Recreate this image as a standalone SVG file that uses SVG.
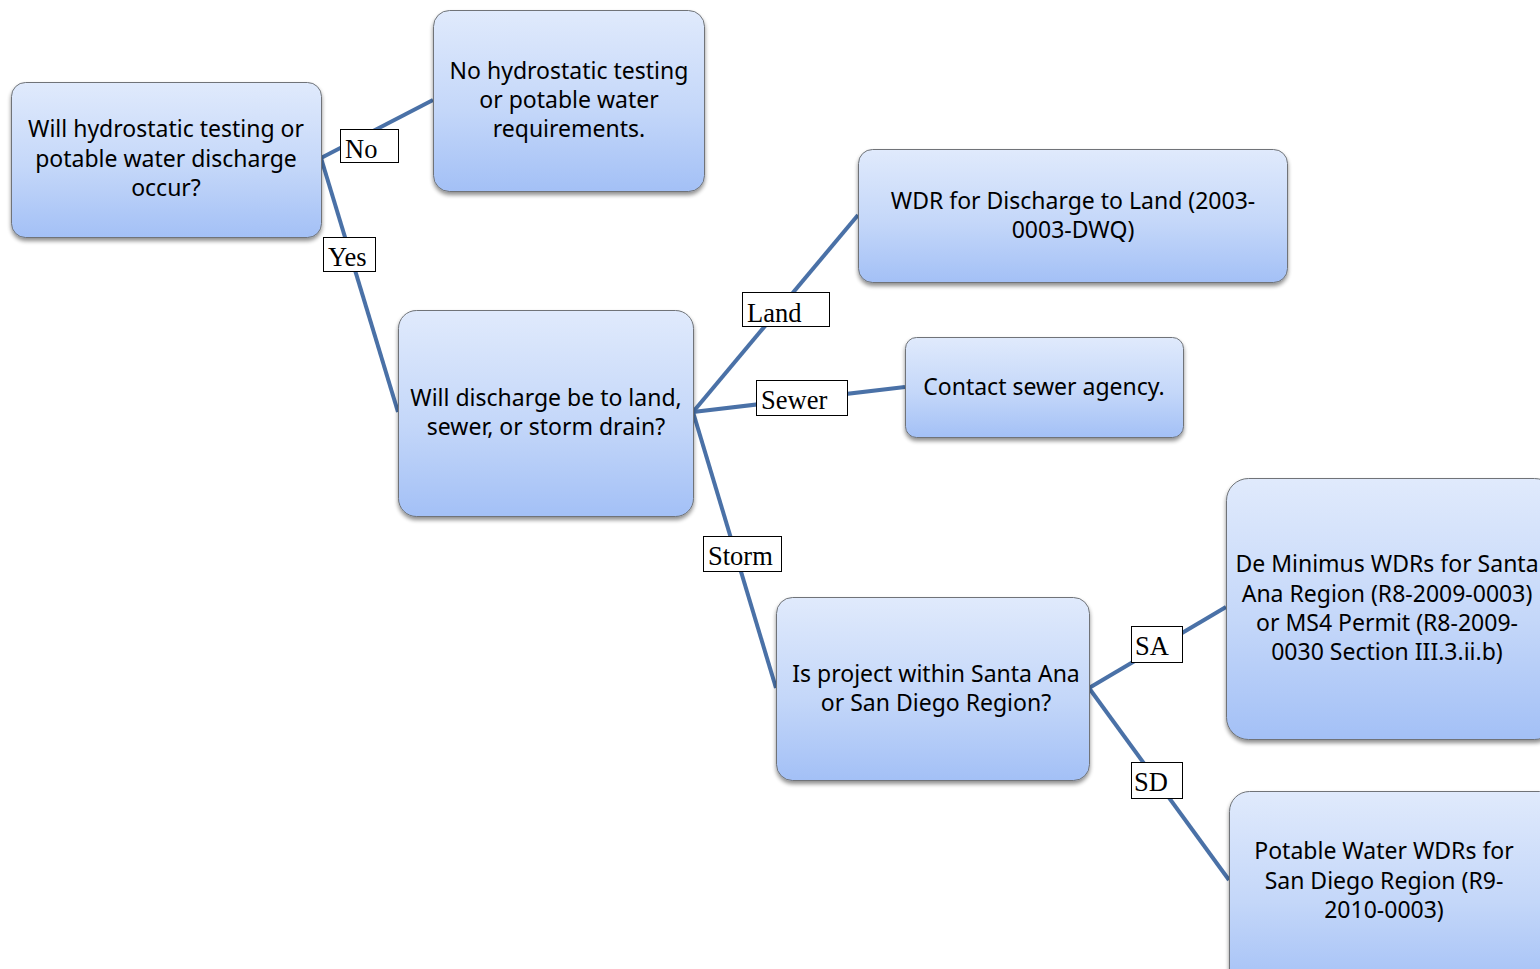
<svg xmlns="http://www.w3.org/2000/svg" width="1540" height="969" viewBox="0 0 1540 969">
<defs>
<linearGradient id="g" x1="0" y1="0" x2="0" y2="1">
<stop offset="0" stop-color="#e0eafc"/>
<stop offset="0.55" stop-color="#c4d7f9"/>
<stop offset="1" stop-color="#a3c0f6"/>
</linearGradient>
<filter id="sh" x="-10%" y="-10%" width="120%" height="130%">
<feGaussianBlur in="SourceAlpha" stdDeviation="2"/>
<feOffset dx="0" dy="3"/>
<feComponentTransfer><feFuncA type="linear" slope="0.45"/></feComponentTransfer>
<feMerge><feMergeNode/><feMergeNode in="SourceGraphic"/></feMerge>
</filter>
</defs>
<style>
.box{fill:url(#g);stroke:#6f7378;stroke-width:1;filter:url(#sh)}
.t{font-family:"Noto Sans","Open Sans",sans-serif;font-size:23px;fill:#000;text-anchor:middle}
.c{stroke:#4a71a7;stroke-width:4;fill:none}
.lb{fill:#fff;stroke:#000;stroke-width:1}
.lt{font-family:"Liberation Serif","Times New Roman",serif;font-size:26.500px;fill:#000}
</style>
<rect width="1540" height="969" fill="#fff"/>
<g id="connectors">
<line class="c" x1="321" y1="158" x2="433" y2="100"/>
<line class="c" x1="321" y1="158" x2="398" y2="412"/>
<line class="c" x1="693" y1="412" x2="858" y2="215"/>
<line class="c" x1="693" y1="412" x2="905" y2="387"/>
<line class="c" x1="693" y1="412" x2="776" y2="688"/>
<line class="c" x1="1089" y1="688" x2="1226" y2="607"/>
<line class="c" x1="1089" y1="688" x2="1229" y2="880"/>
<g id="label-no"><rect class="lb" x="340.500" y="129.500" width="58" height="33"/><text class="lt" x="345" y="158">No</text></g>
<g id="label-yes"><rect class="lb" x="323.500" y="237.500" width="52" height="34"/><text class="lt" x="328" y="266">Yes</text></g>
<g id="label-land"><rect class="lb" x="742.500" y="292.500" width="87" height="34"/><text class="lt" x="747" y="322">Land</text></g>
<g id="label-sewer"><rect class="lb" x="756.500" y="380.500" width="91" height="35"/><text class="lt" x="761" y="409">Sewer</text></g>
<g id="label-storm"><rect class="lb" x="703.500" y="536.500" width="78" height="35"/><text class="lt" x="708" y="565">Storm</text></g>
<g id="label-sa"><rect class="lb" x="1131.500" y="626.500" width="51" height="36"/><text class="lt" x="1135" y="655">SA</text></g>
<g id="label-sd"><rect class="lb" x="1131.500" y="762.500" width="51" height="36"/><text class="lt" x="1134" y="791">SD</text></g>
</g>
<g id="n1"><rect class="box" x="11.500" y="82.500" width="310" height="155" rx="14"/>
<text class="t"><tspan x="166" y="137">Will hydrostatic testing or</tspan><tspan x="166" y="167">potable water discharge</tspan><tspan x="166" y="196">occur?</tspan></text></g>
<g id="n2"><rect class="box" x="433.500" y="10.500" width="271" height="181" rx="16"/>
<text class="t"><tspan x="569" y="79">No hydrostatic testing</tspan><tspan x="569" y="108">or potable water</tspan><tspan x="569" y="137">requirements.</tspan></text></g>
<g id="n3"><rect class="box" x="398.500" y="310.500" width="295" height="206" rx="18"/>
<text class="t"><tspan x="546" y="406">Will discharge be to land,</tspan><tspan x="546" y="435">sewer, or storm drain?</tspan></text></g>
<g id="n4"><rect class="box" x="858.500" y="149.500" width="429" height="133" rx="14"/>
<text class="t"><tspan x="1073" y="209">WDR for Discharge to Land (2003-</tspan><tspan x="1073" y="238">0003-DWQ)</tspan></text></g>
<g id="n5"><rect class="box" x="905.500" y="337.500" width="278" height="100" rx="11"/>
<text class="t"><tspan x="1044" y="395">Contact sewer agency.</tspan></text></g>
<g id="n6"><rect class="box" x="776.500" y="597.500" width="313" height="183" rx="16"/>
<text class="t"><tspan x="936" y="682">Is project within Santa Ana</tspan><tspan x="936" y="711">or San Diego Region?</tspan></text></g>
<g id="n7"><rect class="box" x="1226.500" y="478.500" width="330" height="261" rx="22"/>
<text class="t"><tspan x="1387" y="572">De Minimus WDRs for Santa</tspan><tspan x="1387" y="602">Ana Region (R8-2009-0003)</tspan><tspan x="1387" y="631">or MS4 Permit (R8-2009-</tspan><tspan x="1387" y="660">0030 Section III.3.ii.b)</tspan></text></g>
<g id="n8"><rect class="box" x="1229.500" y="791.500" width="330" height="200" rx="20"/>
<text class="t"><tspan x="1384" y="859">Potable Water WDRs for</tspan><tspan x="1384" y="889">San Diego Region (R9-</tspan><tspan x="1384" y="918">2010-0003)</tspan></text></g>
</svg>
